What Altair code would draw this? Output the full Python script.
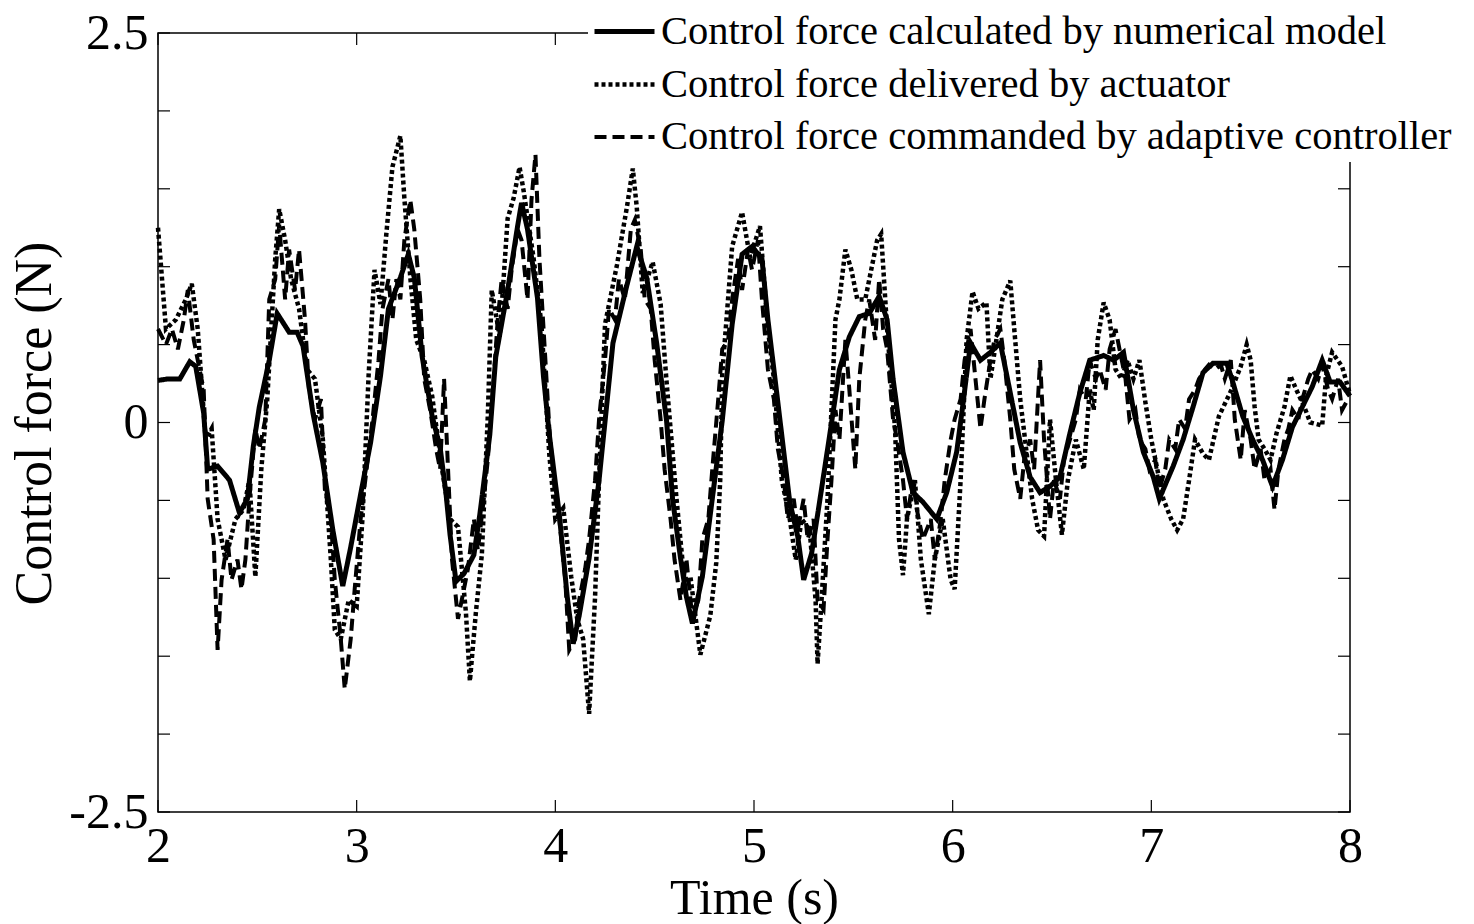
import altair as alt
import pandas as pd

SERIES = [
    "Control force calculated by numerical model",
    "Control force delivered by actuator",
    "Control force commanded by adaptive controller",
]

# numerical model (solid)
T_NUM = [2.00, 2.05, 2.11, 2.16, 2.19, 2.23, 2.25, 2.30, 2.36, 2.41, 2.45, 2.48, 2.51, 2.56, 2.60,
         2.64, 2.66, 2.70, 2.73, 2.78, 2.83, 2.88, 2.93, 2.97, 3.02, 3.07, 3.12, 3.16, 3.22, 3.26,
         3.29, 3.33, 3.38, 3.42, 3.45, 3.47, 3.50, 3.54, 3.59, 3.62, 3.67, 3.70, 3.76, 3.81, 3.83,
         3.86, 3.91, 3.94, 3.97, 4.02, 4.06, 4.09, 4.12, 4.17, 4.22, 4.26, 4.29, 4.36, 4.41, 4.46,
         4.51, 4.56, 4.59, 4.63, 4.66, 4.69, 4.74, 4.79, 4.84, 4.89, 4.94, 4.99, 5.04, 5.07, 5.12,
         5.15, 5.18, 5.22, 5.25, 5.29, 5.33, 5.38, 5.43, 5.48, 5.53, 5.58, 5.63, 5.67, 5.70, 5.75,
         5.80, 5.85, 5.92, 5.97, 6.02, 6.05, 6.09, 6.14, 6.19, 6.24, 6.29, 6.34, 6.39, 6.44, 6.49,
         6.54, 6.59, 6.64, 6.69, 6.76, 6.81, 6.86, 6.91, 6.96, 7.01, 7.04, 7.11, 7.16, 7.21, 7.26,
         7.31, 7.38, 7.41, 7.46, 7.51, 7.56, 7.61, 7.66, 7.71, 7.76, 7.81, 7.86, 7.90, 7.95, 8.00]
F_NUM = [0.27, 0.28, 0.28, 0.39, 0.36, 0.06, -0.30, -0.28, -0.37, -0.58, -0.49, -0.15, 0.10, 0.40, 0.70,
         0.62, 0.58, 0.58, 0.49, 0.06, -0.26, -0.69, -1.05, -0.80, -0.46, -0.13, 0.30, 0.73, 0.93, 1.08,
         0.93, 0.42, 0.04, -0.16, -0.46, -0.72, -1.02, -0.97, -0.85, -0.59, -0.08, 0.42, 0.85, 1.26, 1.41,
         1.24, 0.80, 0.30, -0.08, -0.59, -1.12, -1.42, -1.24, -0.87, -0.37, 0.13, 0.51, 0.88, 1.13, 0.93,
         0.51, 0.01, -0.49, -0.87, -1.12, -1.29, -0.99, -0.49, 0.01, 0.63, 1.08, 1.13, 1.05, 0.66, 0.13,
         -0.19, -0.51, -0.73, -1.01, -0.84, -0.51, -0.09, 0.34, 0.55, 0.68, 0.70, 0.81, 0.66, 0.28, -0.19,
         -0.45, -0.51, -0.62, -0.45, -0.19, 0.10, 0.51, 0.40, 0.45, 0.51, 0.19, -0.13, -0.35, -0.45, -0.41,
         -0.35, -0.07, 0.19, 0.40, 0.43, 0.40, 0.45, 0.08, -0.19, -0.35, -0.49, -0.28, -0.11, 0.10, 0.32,
         0.38, 0.38, 0.26, 0.04, -0.11, -0.24, -0.41, -0.24, -0.03, 0.10, 0.23, 0.40, 0.26, 0.26, 0.17]

# actuator (dotted)
T_ACT = [2.00, 2.04, 2.09, 2.14, 2.17, 2.20, 2.24, 2.27, 2.30, 2.34, 2.39, 2.43, 2.46, 2.49, 2.52,
         2.55, 2.59, 2.61, 2.64, 2.67, 2.71, 2.75, 2.79, 2.83, 2.87, 2.89, 2.92, 2.96, 3.00, 3.03,
         3.06, 3.09, 3.12, 3.15, 3.18, 3.22, 3.24, 3.27, 3.30, 3.34, 3.38, 3.43, 3.47, 3.51, 3.55,
         3.57, 3.60, 3.63, 3.66, 3.68, 3.72, 3.76, 3.79, 3.82, 3.84, 3.89, 3.93, 3.97, 4.00, 4.04,
         4.08, 4.11, 4.14, 4.17, 4.20, 4.22, 4.25, 4.31, 4.36, 4.39, 4.41, 4.44, 4.49, 4.53, 4.56,
         4.61, 4.65, 4.68, 4.73, 4.78, 4.81, 4.83, 4.84, 4.89, 4.94, 4.98, 5.03, 5.07, 5.10, 5.14,
         5.18, 5.21, 5.24, 5.28, 5.31, 5.32, 5.34, 5.37, 5.41, 5.43, 5.46, 5.49, 5.52, 5.56, 5.62,
         5.64, 5.67, 5.71, 5.73, 5.75, 5.77, 5.81, 5.84, 5.88, 5.91, 5.95, 5.99, 6.01, 6.04, 6.07,
         6.10, 6.13, 6.17, 6.19, 6.22, 6.25, 6.29, 6.31, 6.34, 6.37, 6.40, 6.43, 6.46, 6.49, 6.52,
         6.55, 6.58, 6.62, 6.66, 6.69, 6.71, 6.73, 6.76, 6.79, 6.82, 6.85, 6.88, 6.91, 6.94, 6.97,
         7.00, 7.03, 7.06, 7.10, 7.13, 7.16, 7.19, 7.22, 7.26, 7.29, 7.34, 7.40, 7.45, 7.48, 7.50,
         7.52, 7.54, 7.57, 7.60, 7.63, 7.67, 7.70, 7.73, 7.77, 7.80, 7.86, 7.88, 7.91, 7.96, 8.00]
F_ACT = [1.25, 0.60, 0.66, 0.79, 0.89, 0.60, -0.11, -0.04, -0.62, -0.88, -0.62, -0.56, -0.37, -0.99, -0.30,
         0.15, 1.05, 1.37, 1.17, 0.92, 0.73, 0.34, 0.28, -0.11, -0.88, -1.33, -1.39, -1.14, -1.18, -0.60,
         0.30, 0.98, 0.76, 1.22, 1.64, 1.84, 1.44, 0.93, 0.53, 0.40, 0.17, -0.30, -0.62, -0.67, -1.22,
         -1.66, -1.22, -0.85, 0.04, 0.85, 0.55, 1.31, 1.44, 1.64, 1.49, 1.06, 0.63, -0.21, -0.62, -0.55,
         -0.99, -1.26, -1.39, -1.87, -1.12, -0.37, 0.63, 1.01, 1.38, 1.63, 1.38, 0.83, 1.03, 0.76, 0.26,
         -0.49, -1.02, -0.99, -1.49, -1.24, -0.90, -0.37, 0.31, 1.13, 1.35, 1.06, 1.26, 0.60, 0.28, -0.37,
         -0.62, -0.88, -0.62, -0.69, -1.14, -1.55, -1.14, -0.49, 0.66, 0.79, 1.11, 0.98, 0.79, 0.79, 1.17,
         1.21, 0.60, -0.04, -0.75, -0.98, -0.62, -0.37, -0.88, -1.23, -0.88, -0.62, -1.01, -1.07, -0.37, 0.53,
         0.84, 0.73, 0.77, 0.28, 0.53, 0.79, 0.91, 0.60, 0.15, -0.17, -0.49, -0.69, -0.73, 0.02, -0.37,
         -0.72, -0.37, -0.11, -0.30, 0.21, 0.08, 0.53, 0.77, 0.66, 0.34, 0.28, 0.40, 0.28, 0.40, 0.13,
         -0.11, -0.30, -0.49, -0.62, -0.69, -0.62, -0.37, -0.11, -0.20, -0.24, 0.04, 0.20, 0.36, 0.50, 0.40,
         0.10, -0.11, -0.17, -0.24, -0.07, 0.10, 0.30, 0.21, 0.10, 0.00, -0.02, 0.30, 0.45, 0.36, 0.18]

# adaptive controller command (dashed)
T_CMD = [2.00, 2.04, 2.07, 2.10, 2.13, 2.15, 2.18, 2.20, 2.23, 2.25, 2.28, 2.30, 2.32, 2.35, 2.37,
         2.40, 2.42, 2.44, 2.46, 2.49, 2.51, 2.54, 2.56, 2.59, 2.61, 2.64, 2.66, 2.69, 2.71, 2.74,
         2.76, 2.79, 2.82, 2.84, 2.87, 2.89, 2.92, 2.94, 2.97, 2.99, 3.02, 3.05, 3.08, 3.11, 3.13,
         3.16, 3.18, 3.20, 3.22, 3.24, 3.27, 3.29, 3.32, 3.34, 3.37, 3.40, 3.42, 3.44, 3.46, 3.48,
         3.51, 3.54, 3.56, 3.59, 3.61, 3.64, 3.66, 3.69, 3.71, 3.73, 3.76, 3.78, 3.81, 3.83, 3.86,
         3.88, 3.90, 3.92, 3.95, 3.97, 4.00, 4.02, 4.05, 4.07, 4.10, 4.12, 4.15, 4.17, 4.20, 4.22,
         4.25, 4.27, 4.30, 4.32, 4.35, 4.38, 4.40, 4.43, 4.45, 4.48, 4.50, 4.53, 4.55, 4.58, 4.60,
         4.63, 4.66, 4.69, 4.72, 4.74, 4.77, 4.79, 4.82, 4.84, 4.87, 4.89, 4.92, 4.94, 4.97, 4.99,
         5.02, 5.04, 5.07, 5.10, 5.12, 5.15, 5.17, 5.20, 5.22, 5.25, 5.27, 5.30, 5.32, 5.35, 5.37,
         5.39, 5.41, 5.43, 5.46, 5.48, 5.51, 5.53, 5.56, 5.58, 5.61, 5.63, 5.65, 5.67, 5.70, 5.72,
         5.75, 5.77, 5.80, 5.82, 5.85, 5.89, 5.91, 5.94, 5.96, 5.99, 6.01, 6.04, 6.06, 6.09, 6.11,
         6.14, 6.16, 6.19, 6.21, 6.24, 6.26, 6.29, 6.31, 6.34, 6.36, 6.39, 6.41, 6.44, 6.46, 6.49,
         6.51, 6.54, 6.56, 6.59, 6.62, 6.64, 6.67, 6.69, 6.72, 6.74, 6.77, 6.79, 6.82, 6.84, 6.87,
         6.89, 6.92, 6.94, 6.97, 6.99, 7.02, 7.04, 7.07, 7.09, 7.12, 7.14, 7.17, 7.19, 7.22, 7.24,
         7.27, 7.29, 7.32, 7.35, 7.37, 7.40, 7.42, 7.45, 7.47, 7.50, 7.52, 7.55, 7.57, 7.60, 7.62,
         7.64, 7.67, 7.69, 7.71, 7.74, 7.76, 7.79, 7.81, 7.84, 7.86, 7.89, 7.91, 7.94, 7.96, 7.99]
F_CMD = [0.60, 0.50, 0.60, 0.47, 0.66, 0.85, 0.53, 0.40, 0.21, -0.49, -0.75, -1.46, -1.01, -0.75, -1.01,
         -0.88, -1.07, -0.88, -0.49, -0.04, -0.17, 0.02, 0.79, 0.92, 1.27, 0.79, 1.11, 0.85, 1.11, 0.66,
         0.21, 0.02, 0.15, -0.43, -0.62, -1.01, -1.39, -1.71, -1.39, -1.07, -0.62, -0.30, 0.02, 0.40, 0.73,
         0.92, 0.66, 0.92, 0.79, 1.17, 1.43, 1.24, 0.79, 0.28, 0.08, -0.17, -0.30, 0.28, -0.30, -0.88,
         -1.26, -1.07, -0.94, -0.62, -0.82, -0.49, -0.24, 0.28, 0.66, 0.92, 0.73, 0.98, 1.24, 1.17, 0.79,
         1.43, 1.72, 1.05, 0.40, -0.04, -0.49, -0.62, -1.01, -1.46, -1.39, -1.14, -0.94, -0.75, -0.37, 0.02,
         0.40, 0.73, 0.66, 0.92, 0.79, 1.24, 1.30, 1.11, 0.79, 0.73, 0.40, 0.02, -0.30, -0.62, -0.88,
         -1.14, -0.88, -1.26, -1.14, -0.75, -0.62, -0.30, 0.15, 0.47, 0.53, 0.79, 1.05, 0.85, 1.11, 0.98,
         1.17, 0.79, 0.34, 0.15, -0.17, -0.37, -0.62, -0.49, -0.69, -0.49, -0.75, -0.62, -1.14, -1.20, -0.75,
         -0.37, 0.08, -0.11, 0.53, 0.21, -0.30, 0.28, 0.66, 0.79, 0.53, 0.92, 0.60, 0.47, 0.02, -0.11,
         -0.37, -0.62, -0.37, -0.56, -0.75, -0.62, -0.88, -0.62, -0.37, -0.11, 0.02, 0.15, 0.40, 0.60, 0.34,
         -0.04, 0.15, 0.40, 0.53, 0.60, 0.40, 0.02, -0.30, -0.49, -0.24, -0.11, -0.30, 0.40, -0.11, -0.62,
         -0.37, -0.49, -0.24, -0.11, 0.02, 0.21, 0.15, 0.40, 0.28, 0.34, 0.21, 0.47, 0.60, 0.47, 0.28,
         0.02, 0.08, -0.11, -0.17, -0.30, -0.24, -0.43, -0.30, -0.11, -0.17, 0.02, -0.04, 0.15, 0.21, 0.28,
         0.34, 0.37, 0.34, 0.37, 0.28, 0.40, 0.02, -0.24, 0.08, -0.11, -0.30, -0.17, -0.37, -0.30, -0.56,
         -0.30, -0.11, -0.04, 0.08, 0.02, 0.15, 0.28, 0.34, 0.28, 0.37, 0.21, 0.15, 0.28, 0.08, 0.15]

X_TICKS = [2, 3, 4, 5, 6, 7, 8]
Y_TICKS = [-2.5, -2.0, -1.5, -1.0, -0.5, 0.0, 0.5, 1.0, 1.5, 2.0, 2.5]
Y_LABELS = [-2.5, 0, 2.5]

FONT = "Liberation Serif"
W, H = 1192, 779

rows = []
for name, ts, fs in zip(SERIES, [T_NUM, T_ACT, T_CMD], [F_NUM, F_ACT, F_CMD]):
    for t, f in zip(ts, fs):
        rows.append({"series": name, "time": t, "force": f})
df = pd.DataFrame(rows)

xs = alt.Scale(domain=[2, 8], nice=False, zero=False)
ys = alt.Scale(domain=[-2.5, 2.5], nice=False, zero=False)

legend = alt.Legend(
    title=None, orient="none", legendX=430, legendY=-38, fillColor="white", padding=4,
    labelFont=FONT, labelFontSize=40.5, labelColor="black", labelLimit=0, labelOffset=4,
    symbolType="stroke", symbolSize=3600, symbolStrokeWidth=5, symbolStrokeColor="black",
    rowPadding=-6,
)

x_axis = alt.Axis(
    values=X_TICKS, labelExpr="toString(datum.value)", title="Time (s)",
    grid=False, ticks=False, domain=False, tickSize=0, labelFlush=False,
    labelFont=FONT, labelFontSize=50, labelColor="black", labelPadding=9,
    titleFont=FONT, titleFontSize=50, titleFontWeight="normal", titleColor="black",
    titleBaseline="alphabetic", titleY=101)
y_axis = alt.Axis(
    values=Y_LABELS, labelExpr="toString(datum.value)", title="Control force (N)",
    grid=False, ticks=False, domain=False, tickSize=0, labelFlush=False,
    labelFont=FONT, labelFontSize=50, labelColor="black", labelPadding=10,
    titleFont=FONT, titleFontSize=52, titleFontWeight="normal", titleColor="black",
    titleX=-97, titleY=390)

lines = alt.Chart(df).mark_line(strokeCap="butt", strokeJoin="miter").encode(
    x=alt.X("time:Q", scale=xs, axis=x_axis),
    y=alt.Y("force:Q", scale=ys, axis=y_axis),
    color=alt.Color("series:N", scale=alt.Scale(domain=SERIES, range=["black", "black", "black"]),
                    legend=legend),
    strokeDash=alt.StrokeDash("series:N", scale=alt.Scale(domain=SERIES, range=[[1, 0], [4, 3], [12, 6]]),
                              legend=legend),
    strokeWidth=alt.StrokeWidth("series:N", scale=alt.Scale(domain=SERIES, range=[5, 4, 6]), legend=None),
    order=alt.Order("time:Q"),
)

ytick_df = pd.DataFrame({"force": Y_TICKS})
xtick_df = pd.DataFrame({"time": X_TICKS})

left_ticks = alt.Chart(ytick_df).mark_rule(color="black", strokeWidth=1.2).encode(
    y=alt.Y("force:Q", scale=ys), x=alt.value(0), x2=alt.value(12))
right_ticks = alt.Chart(ytick_df).mark_rule(color="black", strokeWidth=1.2).encode(
    y=alt.Y("force:Q", scale=ys), x=alt.value(W - 12), x2=alt.value(W))
bottom_ticks = alt.Chart(xtick_df).mark_rule(color="black", strokeWidth=1.2).encode(
    x=alt.X("time:Q", scale=xs), y=alt.value(H - 12), y2=alt.value(H))
top_ticks = alt.Chart(xtick_df).mark_rule(color="black", strokeWidth=1.2).encode(
    x=alt.X("time:Q", scale=xs), y=alt.value(0), y2=alt.value(12))

chart = alt.layer(lines, left_ticks, right_ticks, bottom_ticks, top_ticks).properties(
    width=W, height=H, autosize=alt.AutoSizeParams(type="none"),
    padding={"left": 158, "top": 33, "right": 124, "bottom": 112},
    background="white",
).configure_view(stroke="black", strokeWidth=1.5)

chart.save("out.html", embed_options={"renderer": "svg", "actions": False})
